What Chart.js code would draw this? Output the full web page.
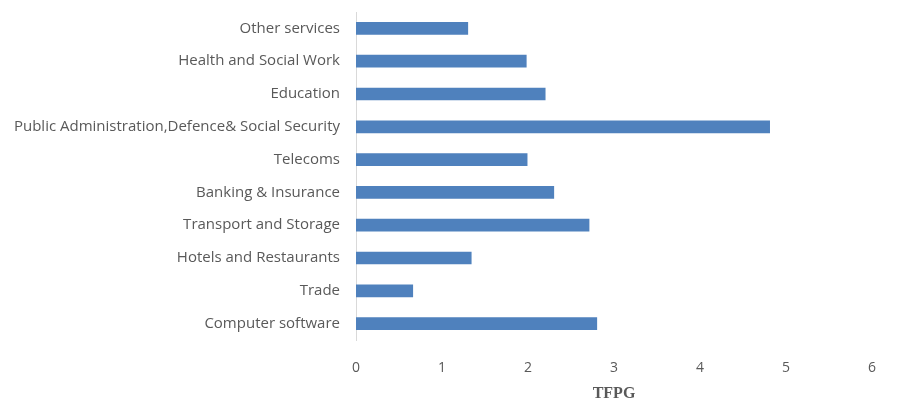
<!DOCTYPE html>
<html lang="en">
<head>
  <meta charset="UTF-8">
  <title>TFPG by sector</title>
  <script src="https://cdn.jsdelivr.net/npm/chart.js"></script>
  <style>
    html, body { margin: 0; padding: 0; background: #ffffff; }
    #wrap { width: 906px; height: 403px; position: relative; }
  </style>
</head>
<body>
  <div id="wrap">
    <canvas id="tfpgChart" width="906" height="403"></canvas>
  </div>
  <script>
    // sectors, top to bottom as drawn
    const sectors = [
      "Other services",
      "Health and Social Work",
      "Education",
      "Public Administration,Defence& Social Security",
      "Telecoms",
      "Banking & Insurance",
      "Transport and Storage",
      "Hotels and Restaurants",
      "Trade",
      "Computer software"
    ];
    const tfpg = [1.30, 1.98, 2.20, 4.81, 1.99, 2.30, 2.71, 1.34, 0.66, 2.80];
    const xTicks = [0, 1, 2, 3, 4, 5, 6];

    const ctx = document.getElementById('tfpgChart').getContext('2d');

    new Chart(ctx, {
      type: 'bar',
      data: {
        labels: sectors,
        datasets: [{
          label: "TFPG",
          data: tfpg,
          backgroundColor: '#4f81bd',
          borderWidth: 0,
          barThickness: 12
        }]
      },
      options: {
        indexAxis: 'y',
        responsive: false,
        animation: false,
        layout: { padding: { left: 0, right: 34, top: 12, bottom: 0 } },
        plugins: {
          legend: { display: false },
          tooltip: { enabled: false }
        },
        scales: {
          y: {
            grid: { display: false, drawTicks: false },
            border: { display: true, color: '#d9d9d9', width: 1 },
            ticks: {
              color: '#595959',
              padding: 16,
              font: { family: 'Open Sans', size: 15 }
            },
            afterFit: function(scale) {
              scale.width = 356;
              scale.paddingTop = 0;
              scale.paddingBottom = 0;
            }
          },
          x: {
            min: 0,
            max: 6,
            afterBuildTicks: function(scale) {
              scale.ticks = xTicks.map(v => ({ value: v }));
            },
            grid: { display: false, drawTicks: false },
            border: { display: false },
            ticks: {
              color: '#595959',
              padding: 20,
              font: { family: 'Open Sans', size: 14 }
            },
            title: {
              display: true,
              text: 'TFPG',
              color: '#595959',
              padding: { top: 4, bottom: 0 },
              font: { family: 'Liberation Serif', size: 16, weight: 'bold' }
            },
            afterFit: function(scale) { scale.height = 63; }
          }
        }
      }
    });
  </script>
</body>
</html>
